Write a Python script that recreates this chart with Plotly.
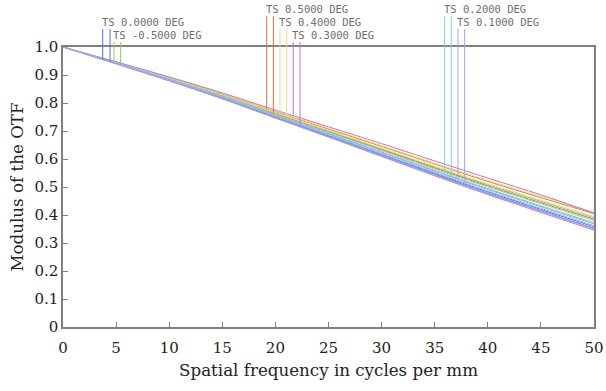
import numpy as np
import plotly.graph_objects as go

# Spatial frequency samples (cycles per mm)
freq = [0, 5, 10, 15, 20, 25, 30, 35, 40, 45, 50]

# MTF curves (T = tangential, S = sagittal)
mtf_000_T = [1.0, 0.941, 0.880, 0.816, 0.748, 0.681, 0.613, 0.545, 0.478, 0.415, 0.352]
mtf_000_S = [1.0, 0.941, 0.881, 0.818, 0.750, 0.684, 0.617, 0.549, 0.483, 0.420, 0.358]
mtf_m050_T = [1.0, 0.944, 0.888, 0.828, 0.763, 0.700, 0.636, 0.571, 0.508, 0.449, 0.390]
mtf_m050_S = [1.0, 0.943, 0.884, 0.822, 0.756, 0.691, 0.625, 0.559, 0.494, 0.433, 0.372]
mtf_050_T = [1.0, 0.946, 0.891, 0.832, 0.769, 0.707, 0.645, 0.582, 0.520, 0.462, 0.405]
mtf_050_S = [1.0, 0.944, 0.887, 0.826, 0.761, 0.697, 0.633, 0.568, 0.504, 0.444, 0.385]
mtf_040_T = [1.0, 0.946, 0.892, 0.834, 0.771, 0.710, 0.648, 0.585, 0.524, 0.467, 0.410]
mtf_040_S = [1.0, 0.945, 0.889, 0.829, 0.765, 0.702, 0.639, 0.575, 0.512, 0.453, 0.395]
mtf_030_T = [1.0, 0.947, 0.893, 0.836, 0.775, 0.715, 0.655, 0.593, 0.532, 0.472, 0.407]
mtf_030_S = [1.0, 0.940, 0.879, 0.815, 0.746, 0.678, 0.609, 0.540, 0.473, 0.409, 0.346]
mtf_020_T = [1.0, 0.943, 0.886, 0.825, 0.759, 0.695, 0.630, 0.564, 0.500, 0.440, 0.380]
mtf_020_S = [1.0, 0.942, 0.882, 0.820, 0.752, 0.686, 0.619, 0.552, 0.486, 0.424, 0.362]
mtf_010_T = [1.0, 0.942, 0.883, 0.821, 0.754, 0.689, 0.623, 0.556, 0.491, 0.429, 0.368]
mtf_010_S = [1.0, 0.940, 0.880, 0.816, 0.747, 0.680, 0.612, 0.543, 0.476, 0.413, 0.350]

field_labels = ["TS 0.0000 DEG", "TS -0.5000 DEG", "TS 0.5000 DEG", "TS 0.4000 DEG",
                "TS 0.3000 DEG", "TS 0.2000 DEG", "TS 0.1000 DEG"]
field_colors = ["#5a6ae0", "#8ccc66", "#ee6a4a", "#e4e07a", "#b87ad0", "#78d4e2", "#a4a4ee"]
field_T = [mtf_000_T, mtf_m050_T, mtf_050_T, mtf_040_T, mtf_030_T, mtf_020_T, mtf_010_T]
field_S = [mtf_000_S, mtf_m050_S, mtf_050_S, mtf_040_S, mtf_030_S, mtf_020_S, mtf_010_S]

# label leader positions (frequency where each T / S leader meets its curve)
leader_T = [3.74, 4.80, 19.18, 20.43, 21.68, 35.94, 37.19]
leader_S = [4.43, 5.43, 19.81, 21.06, 22.32, 36.56, 37.82]
# label row (0 = top row) for each field
label_row = [1, 2, 0, 1, 2, 0, 1]
row_text_y = [1.136, 1.089, 1.043]
row_line_top = [1.110, 1.064, 1.018]

x_ticks = [0, 5, 10, 15, 20, 25, 30, 35, 40, 45, 50]
y_ticks = [0, 0.1, 0.2, 0.3, 0.4, 0.5, 0.6, 0.7, 0.8, 0.9, 1.0]
y_ticktext = ["0", "0.1", "0.2", "0.3", "0.4", "0.5", "0.6", "0.7", "0.8", "0.9", "1.0"]

fig = go.Figure()
for lab, col, t, s in zip(field_labels, field_colors, field_T, field_S):
    for series in (t, s):
        fig.add_trace(go.Scatter(x=freq, y=series, mode="lines", name=lab,
                                 line=dict(color=col, width=1, shape="spline", smoothing=0.8),
                                 showlegend=False, hoverinfo="skip"))

shapes = []
annotations = []
for lab, col, t, s, lt, ls, row in zip(field_labels, field_colors, field_T, field_S,
                                       leader_T, leader_S, label_row):
    for lx, series in ((lt, t), (ls, s)):
        y0 = float(np.interp(lx, freq, series))
        shapes.append(dict(type="line", xref="x", yref="paper", x0=lx, x1=lx,
                           y0=y0, y1=row_line_top[row],
                           line=dict(color=col, width=1), layer="above"))
    annotations.append(dict(text=lab, xref="x", yref="paper", x=lt, y=row_text_y[row],
                            xanchor="left", yanchor="middle", xshift=-3, showarrow=False,
                            font=dict(family="DejaVu Sans Mono", size=10.5, color="#6e6e6e")))

axis_font = dict(family="DejaVu Serif", size=15, color="#222")
title_font = dict(family="DejaVu Serif", size=16.7, color="#222")
fig.update_layout(
    width=606, height=391,
    margin=dict(l=63, r=12, t=47, b=64),
    paper_bgcolor="white", plot_bgcolor="white",
    shapes=shapes, annotations=annotations,
    xaxis=dict(range=[0, 50], tickvals=x_ticks, ticks="inside", ticklen=5, tickwidth=1,
               tickcolor="#808080", showline=True, linecolor="#808080", linewidth=1.5,
               mirror=True, showgrid=False, zeroline=False, tickfont=axis_font,
               automargin=False, ticklabelstandoff=6,
               title=dict(text="Spatial frequency in cycles per mm", font=title_font, standoff=9)),
    yaxis=dict(range=[0, 1], tickvals=y_ticks, ticktext=y_ticktext, ticks="inside", ticklen=5,
               tickwidth=1, tickcolor="#808080", showline=True, linecolor="#808080",
               linewidth=1.5, mirror=True, showgrid=False, zeroline=False, tickfont=axis_font,
               automargin=False,
               title=dict(text="Modulus of the OTF", font=title_font, standoff=7)),
)

# remove the default page margin so the 606x391 figure fills the window exactly
fig.write_html("out.html", config={"displayModeBar": False},
               post_script="document.body.style.margin='0';")
